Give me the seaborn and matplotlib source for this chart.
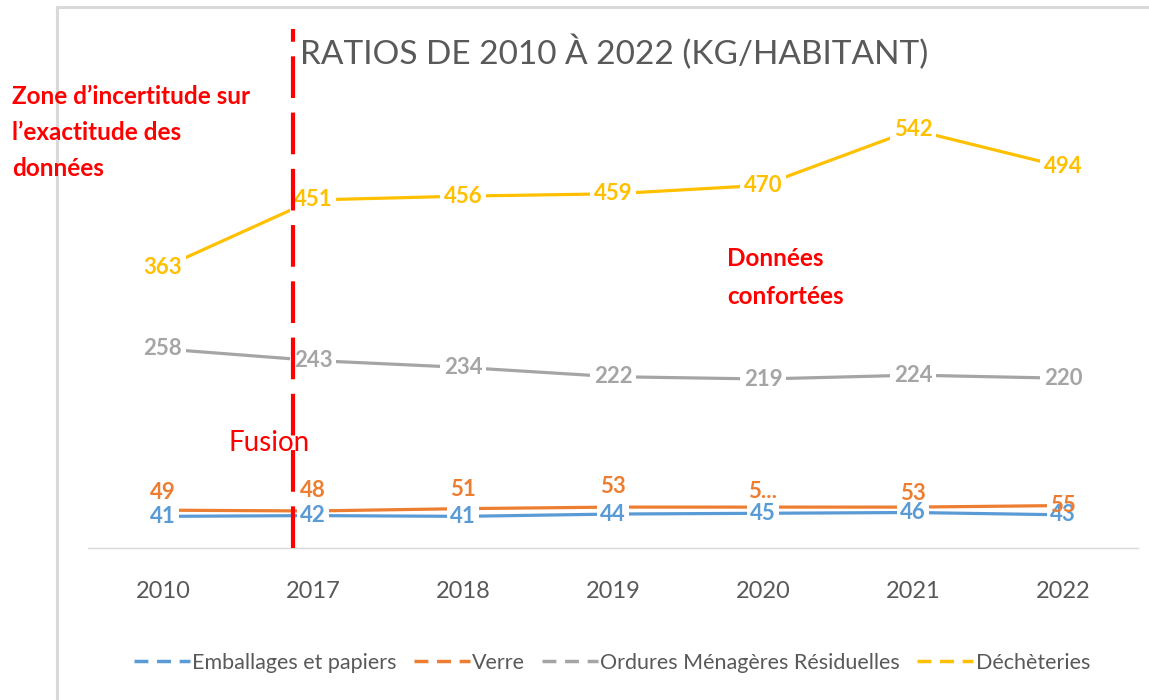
import pandas as pd
import matplotlib.pyplot as plt
import seaborn as sns
from matplotlib.lines import Line2D

years = ['2010', '2017', '2018', '2019', '2020', '2021', '2022']
emballages = [41, 42, 41, 44, 45, 46, 43]
verre = [49, 48, 51, 53, 53, 53, 55]
omr = [258, 243, 234, 222, 219, 224, 220]
decheteries = [363, 451, 456, 459, 470, 542, 494]

series_names = ['Emballages et papiers', 'Verre', 'Ordures Ménagères Résiduelles', 'Déchèteries']
series_values = [emballages, verre, omr, decheteries]
colors = ['#5B9BD5', '#ED7D31', '#A5A5A5', '#FFC000']

# label text for verre is truncated in 2020 in the original
verre_labels = ['49', '48', '51', '53', '5...', '53', '55']
verre_offsets = [13, 15, 14, 15, 11, 10, 0]

FONT = ['Lato', 'DejaVu Sans']


def build_frame():
    rows = []
    for name, vals in zip(series_names, series_values):
        for i, v in enumerate(vals):
            rows.append({'pos': i, 'year': years[i], 'serie': name, 'value': v})
    return pd.DataFrame(rows)


def main():
    sns.set_style('white')
    plt.rcParams['font.family'] = FONT
    df = build_frame()

    fig = plt.figure(figsize=(11.49, 7), dpi=100)
    ax = fig.add_axes([88 / 1149, 152 / 700, 1050 / 1149, 463 / 700])

    sns.lineplot(data=df, x='pos', y='value', hue='serie', palette=colors,
                 hue_order=series_names, linewidth=2.3, ax=ax, legend=False,
                 zorder=2)

    ax.set_xlim(-0.5, 6.5)
    ax.set_ylim(0, 600)
    ax.set_xticks(range(len(years)))
    ax.set_xticklabels(years, fontsize=17, color='#595959')
    ax.tick_params(axis='x', length=0, pad=24)
    ax.set_yticks([])
    ax.set_xlabel('')
    ax.set_ylabel('')
    for s in ['left', 'right', 'top']:
        ax.spines[s].set_visible(False)
    ax.spines['bottom'].set_color('#D9D9D9')
    ax.spines['bottom'].set_linewidth(1)

    box = dict(boxstyle='square,pad=0.15', fc='white', ec='none')
    # centered labels
    for name, vals, col in zip(series_names, series_values, colors):
        if name == 'Verre':
            continue
        for i, v in enumerate(vals):
            ax.text(i, v, str(v), ha='center', va='center', fontsize=16,
                    fontweight='bold', color=col, bbox=box, zorder=5)
    # verre labels above the line
    for i, v in enumerate(verre):
        ax.annotate(verre_labels[i], (i, v), xytext=(0, verre_offsets[i]),
                    textcoords='offset points', ha='center', va='center',
                    fontsize=16, fontweight='bold', color=colors[1], zorder=6)

    # fusion marker
    xf = (293 - 163) / 150
    ax.plot([xf, xf], [0, 672], color='#FF0000', linewidth=3,
            dashes=(10, 3.5), clip_on=False, zorder=7)
    ax.text(xf - 0.43, 136, 'Fusion', color='#FF0000', fontsize=20,
            ha='left', va='center')

    fig.text(300 / 1149, 1 - 52 / 700, 'RATIOS DE 2010 À 2022 (KG/HABITANT)',
             fontsize=24, color='#595959', ha='left', va='center')

    notes = [('Zone d\u2019incertitude sur', 12, 96),
             ('l\u2019exactitude des', 12, 133),
             ('données', 12, 169),
             ('Données', 727, 259),
             ('confortées', 727, 296)]
    for txt, px, py in notes:
        fig.text(px / 1149, 1 - py / 700, txt, color='#FF0000',
                 fontsize=17.5, fontweight='bold', ha='left', va='center')

    # chart area frame
    fig.add_artist(Line2D([57 / 1149, 57 / 1149], [0, 1 - 7 / 700],
                          color='#D9D9D9', linewidth=2.2))
    fig.add_artist(Line2D([57 / 1149, 1], [1 - 7 / 700, 1 - 7 / 700],
                          color='#D9D9D9', linewidth=2.2))

    handles = [Line2D([0], [0], color=c, linewidth=2.5, dashes=(4, 2.5))
               for c in colors]
    fig.legend(handles, series_names, loc='center', ncol=4,
               bbox_to_anchor=(612 / 1149, 1 - 663 / 700), frameon=False,
               fontsize=15.5, handlelength=2.6, handletextpad=0.1,
               columnspacing=0.8, labelcolor='#595959')

    fig.savefig('out.png', dpi=100)
    plt.close(fig)


if __name__ == '__main__':
    main()
